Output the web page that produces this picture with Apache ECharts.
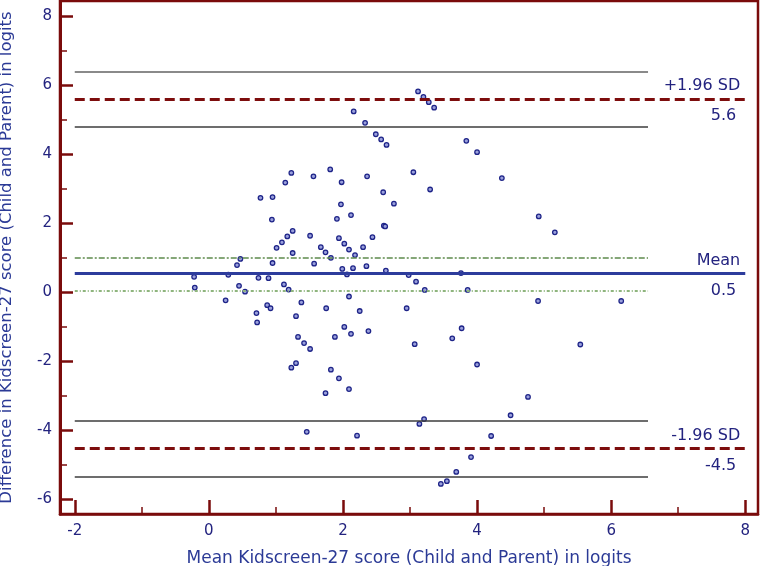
<!DOCTYPE html>
<html>
<head>
<meta charset="utf-8">
<script src="https://cdn.jsdelivr.net/npm/echarts@6/dist/echarts.min.js"></script>
<style>
html, body { margin: 0; padding: 0; background: #fff; }
#chart { width: 761px; height: 566px; }
</style>
</head>
<body>
<div id="chart"></div>
<script>
// Bland-Altman: mean of child and parent score (x) vs their difference (y), logits
var meanScore = [2.16, 2.33, 2.49, 2.57, 2.65, 3.12, 3.20, 3.28, 3.36, 3.84, 4.00, 3.05, 3.30, 4.37,
    2.60, 2.76, 2.61, 2.63, 4.92, 5.16, 2.44, 2.64, 2.98, 3.76, 0.77, 0.95, 1.14, 1.23, 1.56, 1.81,
    1.98, 2.36, 0.94, 1.97, 1.91, 2.12, 1.25, 1.17, 1.09, 1.01, 1.25, 1.51, 1.67, 1.74, 1.82, 1.94,
    2.02, 2.09, 2.18, 2.30, 0.42, 0.47, 0.95, 1.57, 1.99, 2.15, 2.35, -0.22, 0.29, 0.74, 0.89, 2.06,
    -0.21, 0.45, 0.54, 1.12, 1.19, 0.25, 0.71, 0.72, 0.87, 0.92, 1.30, 1.38, 1.75, 1.33, 1.42, 1.51,
    1.23, 1.30, 2.02, 1.88, 1.82, 1.94, 1.74, 2.09, 1.46, 2.09, 2.25, 2.12, 2.38, 2.21, 3.09, 3.22,
    3.86, 4.91, 6.15, 2.95, 3.07, 3.63, 3.77, 4.00, 4.76, 4.50, 5.54, 3.14, 3.21, 4.21, 3.91, 3.69,
    3.55, 3.46];
var diffScore = [5.23, 4.90, 4.57, 4.42, 4.26, 5.81, 5.65, 5.50, 5.34, 4.38, 4.05, 3.47, 2.97, 3.30,
    2.89, 2.56, 1.92, 1.90, 2.19, 1.73, 1.59, 0.62, 0.49, 0.55, 2.73, 2.75, 3.17, 3.45, 3.35, 3.55,
    3.18, 3.35, 2.10, 2.54, 2.12, 2.23, 1.77, 1.61, 1.44, 1.28, 1.13, 1.63, 1.30, 1.15, 0.99, 1.56,
    1.40, 1.23, 1.07, 1.30, 0.78, 0.96, 0.84, 0.82, 0.67, 0.69, 0.75, 0.44, 0.50, 0.41, 0.40, 0.51,
    0.13, 0.18, 0.01, 0.22, 0.07, -0.24, -0.61, -0.88, -0.38, -0.47, -0.70, -0.30, -0.47, -1.30, -1.48, -1.65,
    -2.19, -2.06, -1.01, -1.30, -2.25, -2.50, -2.93, -2.81, -4.05, -0.13, -0.55, -1.21, -1.13, -4.16, 0.30, 0.06,
    0.06, -0.26, -0.26, -0.47, -1.51, -1.34, -1.05, -2.10, -3.04, -3.57, -1.52, -3.82, -3.68, -4.17, -4.78, -5.21,
    -5.48, -5.56];

var xMajorTicks = [-2, 0, 2, 4, 6, 8];
var xMinorTicks = [-1, 1, 3, 5, 7];
var yMajorTicks = [-6, -4, -2, 0, 2, 4, 6, 8];
var yMinorTicks = [-5, -3, -1, 1, 3, 5, 7];

var meanDiff = 0.53;
var meanCI = [0.05, 0.99];
var upperLoA = 5.59;
var upperCI = [4.79, 6.39];
var lowerLoA = -4.53;
var lowerCI = [-5.34, -3.74];
var lineStart = -2;
var lineEnd = 8;
var ciEnd = 6.55;
var lineNames = ['+1.96 SD', 'Mean', '-1.96 SD'];
var lineValues = ['5.6', '0.5', '-4.5'];

var frame = '#7a0b0b';
var navy = '#23237f';
var font = 'DejaVu Sans';

var points = meanScore.map(function (x, i) { return [x, diffScore[i]]; });

function axis(dim, ticks, len, width, main) {
    var a = {
        type: 'value',
        min: dim == 'x' ? -2.22 : -6.43,
        max: dim == 'x' ? 8.19 : 8.43,
        position: dim == 'x' ? 'bottom' : 'left',
        splitLine: { show: false },
        axisLine: { show: main, onZero: false, lineStyle: { color: frame, width: dim == 'x' ? 2.5 : 3 } },
        axisTick: { show: true, inside: true, length: len, customValues: ticks, lineStyle: { color: frame, width: width } },
        axisLabel: { show: main, customValues: ticks, color: navy, fontFamily: font, fontSize: 15, margin: dim == 'x' ? 10 : 8 }
    };
    if (main) {
        a.name = dim == 'x' ? 'Mean Kidscreen-27 score (Child and Parent) in logits'
                            : 'Difference in Kidscreen-27 score (Child and Parent) in logits';
        a.nameLocation = 'middle';
        a.nameGap = dim == 'x' ? 36 : 45;
        a.nameTextStyle = { color: '#2b3a96', fontFamily: font, fontSize: dim == 'x' ? 17 : 16.5 };
    }
    return a;
}

function seg(y, x1, style, label) {
    return [{ coord: [lineStart, y], lineStyle: style, label: label || { show: false } }, { coord: [x1, y] }];
}

function endLabel(text, pos) {
    return { show: true, formatter: text, position: pos, distance: pos == 'insideEndTop' ? 5 : 9,
        color: navy, fontFamily: font, fontSize: 16 };
}

var ciStyle = { color: '#3c3c3c', width: 1.5, type: 'solid' };
var sdStyle = { color: '#7d0d0d', width: 3, type: [10, 5] };
var hidden = { color: 'rgba(255,255,255,0)', width: 1, type: 'solid' };

var chart = echarts.init(document.getElementById('chart'));
chart.setOption({
    animation: false,
    grid: { left: 60, right: 3, top: 1, bottom: 52, containLabel: false, outerBoundsMode: 'none',
        show: true, borderColor: frame, borderWidth: 2.5 },
    xAxis: [axis('x', xMajorTicks, 14, 2.5, true), axis('x', xMinorTicks, 7, 1.5, false)],
    yAxis: [axis('y', yMajorTicks, 13, 2.5, true), axis('y', yMinorTicks, 7, 1.5, false)],
    series: [{
        type: 'scatter',
        data: points,
        symbol: 'circle',
        symbolSize: 4.5,
        itemStyle: { color: '#9aa0dc', borderColor: '#1e2488', borderWidth: 1.3, opacity: 1 },
        markLine: {
            silent: true,
            symbol: ['none', 'none'],
            data: [
                seg(upperCI[1], ciEnd, { color: '#8a8a8a', width: 1.8, type: 'solid' }),
                seg(upperCI[0], ciEnd, ciStyle),
                seg(meanCI[1], ciEnd, { color: '#5e8a4c', width: 1.5, type: [6, 2, 2, 2] }),
                seg(meanCI[0], ciEnd, { color: '#8fb57e', width: 2, type: [3, 2, 1, 2] }),
                seg(lowerCI[1], ciEnd, ciStyle),
                seg(lowerCI[0], ciEnd, ciStyle),
                seg(upperLoA, lineEnd, sdStyle, endLabel(lineNames[0], 'insideEndTop')),
                seg(upperLoA, lineEnd, hidden, endLabel(lineValues[0], 'insideEndBottom')),
                seg(meanDiff, lineEnd, { color: '#2d3c9c', width: 3, type: 'solid' }, endLabel(lineNames[1], 'insideEndTop')),
                seg(meanDiff, lineEnd, hidden, endLabel(lineValues[1], 'insideEndBottom')),
                seg(lowerLoA, lineEnd, sdStyle, endLabel(lineNames[2], 'insideEndTop')),
                seg(lowerLoA, lineEnd, hidden, endLabel(lineValues[2], 'insideEndBottom'))
            ]
        },
        z: 3
    }]
});
</script>
</body>
</html>
